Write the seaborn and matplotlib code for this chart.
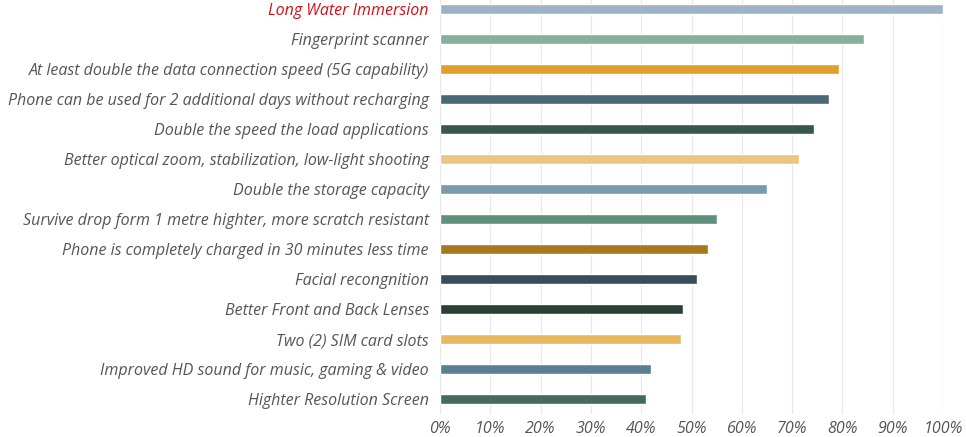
import matplotlib
matplotlib.use("Agg")
import matplotlib.pyplot as plt
import seaborn as sns
import pandas as pd
from matplotlib.ticker import PercentFormatter

# Daten
features = [
    "Long Water Immersion",
    "Fingerprint scanner",
    "At least double the data connection speed (5G capability)",
    "Phone can be used for 2 additional days without recharging",
    "Double the speed the load applications",
    "Better optical zoom, stabilization, low-light shooting",
    "Double the storage capacity",
    "Survive drop form 1 metre highter, more scratch resistant",
    "Phone is completely charged in 30 minutes less time",
    "Facial recongnition",
    "Better Front and Back Lenses",
    "Two (2) SIM card slots",
    "Improved HD sound for music, gaming & video",
    "Highter Resolution Screen",
]
shares = [1.00, 0.843, 0.793, 0.773, 0.743, 0.713, 0.650, 0.551,
          0.533, 0.511, 0.483, 0.479, 0.420, 0.410]
bar_colors = ["#9bb3c4", "#86b09d", "#df9f2c", "#4a6878", "#38584a", "#ecc581",
              "#7a9aae", "#5e917c", "#a8781e", "#384d5a", "#2a4035", "#e8b860",
              "#5a7f94", "#476b5a"]
ticks = [0, 0.1, 0.2, 0.3, 0.4, 0.5, 0.6, 0.7, 0.8, 0.9, 1.0]

df = pd.DataFrame({"feature": features, "share": shares})

sns.set_style("white")
plt.rcParams["font.family"] = ["Open Sans", "DejaVu Sans"]

fig = plt.figure(figsize=(9.66, 4.37), dpi=100)
ax = fig.add_axes([440 / 966, 1 - 414 / 437, 503 / 966, 420 / 437])

sns.barplot(data=df, x="share", y="feature", hue="feature", palette=bar_colors,
            orient="h", width=0.36, saturation=1, legend=False, ax=ax)

ax.set_xlim(0, 1.0)
ax.set_ylim(13.5, -0.5)
ax.set_xticks(ticks)
ax.xaxis.set_major_formatter(PercentFormatter(1.0, decimals=0))
ax.grid(axis="x", color="#e8e8e8", lw=0.9)
ax.set_axisbelow(True)
for s in ax.spines.values():
    s.set_visible(False)
ax.set_xlabel("")
ax.set_ylabel("")
ax.tick_params(axis="both", length=0, labelsize=11.5, labelcolor="#555555")
ax.tick_params(axis="y", pad=8)
ax.tick_params(axis="x", pad=5)
for lbl in ax.get_yticklabels() + ax.get_xticklabels():
    lbl.set_fontstyle("italic")
ax.get_yticklabels()[0].set_color("#d0101a")

fig.savefig("out.png", dpi=100)
